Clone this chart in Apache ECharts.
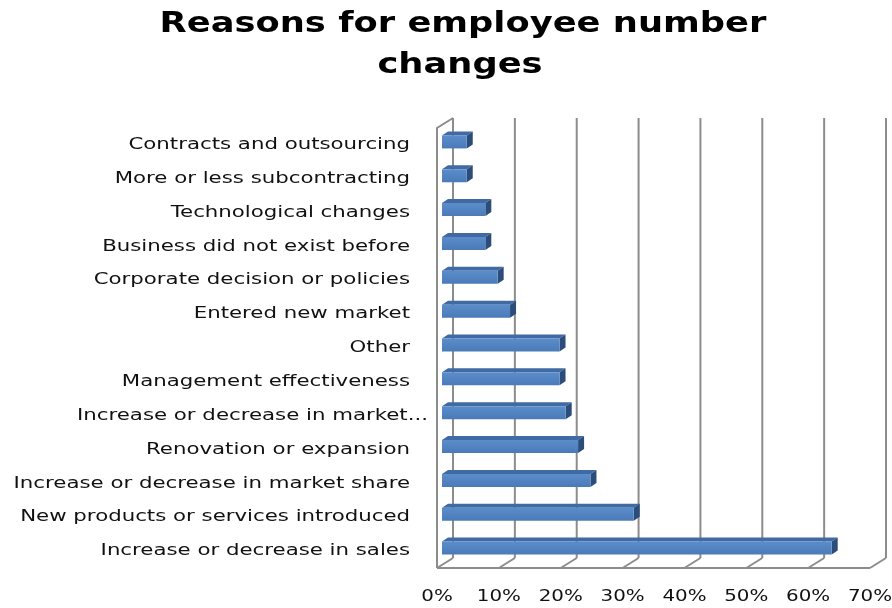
<!DOCTYPE html>
<html>
<head>
<meta charset="utf-8">
<script src="https://cdn.jsdelivr.net/npm/echarts@6/dist/echarts.min.js"></script>
<style>
  html, body { margin: 0; padding: 0; background: #ffffff; }
  #chart { width: 892px; height: 608px; }
</style>
</head>
<body>
<div id="chart"></div>
<script>
// Reasons, listed top to bottom
const categories = [
  'Contracts and outsourcing',
  'More or less subcontracting',
  'Technological changes',
  'Business did not exist before',
  'Corporate decision or policies',
  'Entered new market',
  'Other',
  'Management effectiveness',
  'Increase or decrease in market...',
  'Renovation or expansion',
  'Increase or decrease in market share',
  'New products or services introduced',
  'Increase or decrease in sales'
];
// Share of respondents (%)
const shares = [4, 4, 7, 7, 9, 11, 19, 19, 20, 22, 24, 31, 63];
// Value axis ticks (%)
const ticks = [0, 10, 20, 30, 40, 50, 60, 70];
const titleLines = ['Reasons for employee number', 'changes'];

const TRUNCATED = 'Increase or decrease in market...';
const FONT = 'DejaVu Sans';
const TEXT_COLOR = '#111111';
// Text in this chart is set wide (horizontally stretched lettering)
const WIDE_TITLE = 1.26;
const WIDE_CAT = 1.33;
const WIDE_TICK = 1.24;

// Depth of the box (back wall offset relative to the front plane)
const DEPTH = [16, -10];
// Position of the bars inside the depth and their own thickness
const BAR_SHIFT = [5, -3];
const BAR_SIDE = [6, -4];
const BAR_H = 13;

const chart = echarts.init(document.getElementById('chart'));

function wideText(x, y, text, font, align, scale) {
  return {
    type: 'text',
    x: x,
    y: y,
    scaleX: scale,
    style: {
      text: text,
      font: font,
      fill: TEXT_COLOR,
      align: align,
      textAlign: align,
      verticalAlign: 'middle',
      textVerticalAlign: 'middle'
    }
  };
}

// Box walls, floor and the value-axis labels
function frameItem(params, api) {
  const v = api.value(0);
  const rect = params.coordSys;
  const top = rect.y, bottom = rect.y + rect.height;
  const x = api.coord([v, 0])[0];
  const lineStyle = { stroke: '#8c8c8c', lineWidth: 2, fill: null };
  const children = [];
  // gridline on the back wall
  children.push({
    type: 'line',
    shape: { x1: x + DEPTH[0], y1: top + DEPTH[1], x2: x + DEPTH[0], y2: bottom + DEPTH[1] },
    style: lineStyle
  });
  // tick running across the floor
  children.push({
    type: 'line',
    shape: { x1: x, y1: bottom, x2: x + DEPTH[0], y2: bottom + DEPTH[1] },
    style: lineStyle
  });
  // tick label
  children.push(wideText(x, bottom + 29, v + '%', '16px "' + FONT + '"', 'center', WIDE_TICK));
  if (params.dataIndex === 0) {
    // left side wall edges
    children.push({
      type: 'polyline',
      shape: { points: [[x, bottom], [x, top], [x + DEPTH[0], top + DEPTH[1]]] },
      style: lineStyle
    });
    // front edge of the floor
    const xr = api.coord([ticks[ticks.length - 1], 0])[0];
    children.push({
      type: 'line',
      shape: { x1: x, y1: bottom, x2: xr, y2: bottom },
      style: lineStyle
    });
  }
  return { type: 'group', children: children };
}

// Category names beside the bars
function labelItem(params, api) {
  const idx = api.value(1);
  const p = api.coord([0, idx]);
  const name = categories[idx];
  const gap = name === TRUNCATED ? 9 : 27;
  return wideText(p[0] - gap, p[1], name, '16px "' + FONT + '"', 'right', WIDE_CAT);
}

// 3-D looking bars: front face, top face and end face
function barItem(params, api) {
  const v = api.value(0);
  const idx = api.value(1);
  const start = api.coord([0, idx]);
  const end = api.coord([v, idx]);
  const x0 = start[0] + BAR_SHIFT[0];
  const x1 = end[0] + BAR_SHIFT[0];
  const yc = start[1] + BAR_SHIFT[1];
  const y0 = yc - BAR_H / 2, y1 = yc + BAR_H / 2;
  const dx = BAR_SIDE[0], dy = BAR_SIDE[1];
  return {
    type: 'group',
    children: [
      {
        type: 'polygon',
        shape: { points: [[x0, y0], [x0 + dx, y0 + dy], [x1 + dx, y0 + dy], [x1, y0]] },
        style: { fill: '#3f6aa3' }
      },
      {
        type: 'polygon',
        shape: { points: [[x1, y0], [x1 + dx, y0 + dy], [x1 + dx, y1 + dy], [x1, y1]] },
        style: { fill: '#2c4d7a' }
      },
      {
        type: 'rect',
        shape: { x: x0, y: y0, width: x1 - x0, height: BAR_H },
        style: {
          fill: new echarts.graphic.LinearGradient(0, 0, 0, 1, [
            { offset: 0, color: '#5b8dca' },
            { offset: 1, color: '#4a7bb8' }
          ])
        }
      }
    ]
  };
}

chart.setOption({
  animation: false,
  backgroundColor: '#ffffff',
  graphic: [
    {
      type: 'text',
      x: 463,
      y: 25,
      scaleX: WIDE_TITLE,
      style: {
        text: titleLines[0],
        font: 'bold 28px "' + FONT + '"',
        fill: '#000000',
        align: 'center', textAlign: 'center',
        verticalAlign: 'middle', textVerticalAlign: 'middle'
      }
    },
    {
      type: 'text',
      x: 460,
      y: 66,
      scaleX: WIDE_TITLE,
      style: {
        text: titleLines[1],
        font: 'bold 28px "' + FONT + '"',
        fill: '#000000',
        align: 'center', textAlign: 'center',
        verticalAlign: 'middle', textVerticalAlign: 'middle'
      }
    }
  ],
  grid: { left: 437, right: 22, top: 128, bottom: 40, containLabel: false },
  xAxis: {
    type: 'value',
    min: 0,
    max: 70,
    interval: 10,
    axisLine: { show: false },
    axisTick: { show: false },
    splitLine: { show: false },
    axisLabel: { show: false }
  },
  yAxis: {
    type: 'category',
    data: categories,
    inverse: true,
    axisLine: { show: false },
    axisTick: { show: false },
    splitLine: { show: false },
    axisLabel: { show: false }
  },
  series: [
    {
      type: 'custom',
      name: 'frame',
      silent: true,
      z: 1,
      renderItem: frameItem,
      data: ticks.map(function (t) { return [t, 0]; }),
      encode: { x: 0, y: 1 }
    },
    {
      type: 'custom',
      name: 'labels',
      silent: true,
      z: 1,
      renderItem: labelItem,
      data: categories.map(function (c, i) { return [0, i]; }),
      encode: { x: 0, y: 1 }
    },
    {
      type: 'custom',
      name: 'Share',
      z: 2,
      renderItem: barItem,
      data: shares.map(function (s, i) { return [s, i]; }),
      encode: { x: 0, y: 1 }
    }
  ]
});
</script>
</body>
</html>
